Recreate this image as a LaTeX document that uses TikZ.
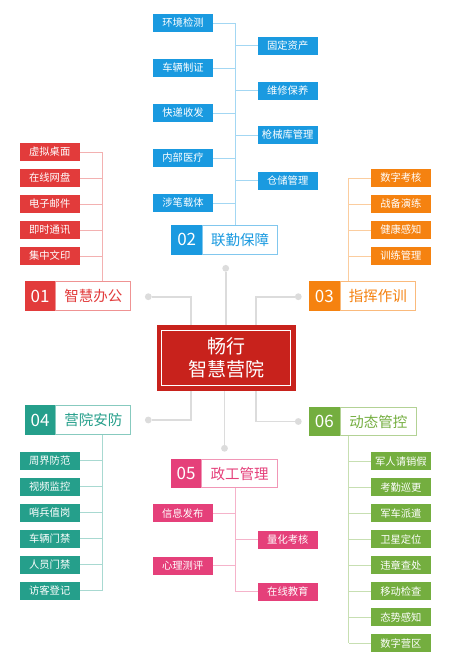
\documentclass[tikz,border=0pt]{standalone}
\usepackage{fontspec}
\newfontfamily\cjk{Noto Sans CJK SC}
\definecolor{blueC}{HTML}{1A9AE0}
\definecolor{redC}{HTML}{E23B3B}
\definecolor{orangeC}{HTML}{F58210}
\definecolor{tealC}{HTML}{259F8B}
\definecolor{pinkC}{HTML}{E5407A}
\definecolor{greenC}{HTML}{74AE3F}
\definecolor{centerC}{HTML}{C8221C}
\definecolor{grayL}{HTML}{DCDCDC}
\tikzset{
  item/.style={fill=#1, text=white, minimum width=60pt, minimum height=18pt, inner sep=0pt, font=\cjk\fontsize{10.3}{12}\selectfont},
  hnum/.style={fill=#1, draw=#1, line width=0.8pt, text=white, minimum width=30pt, minimum height=28.5pt, inner sep=0pt, font=\cjk\fontsize{17}{19}\selectfont},
  hlab/.style={fill=white, draw=#1!55, line width=0.8pt, text=#1, minimum height=28.5pt, inner sep=0pt, font=\cjk\fontsize{14.5}{16}\selectfont},
  gl/.style={draw=#1!40, line width=0.9pt},
  conn/.style={draw=grayL, line width=1.6pt},
  gdot/.style={circle, fill=grayL, minimum size=6.8pt, inner sep=0pt},
}
\begin{document}
\begin{tikzpicture}[x=1pt,y=-1pt]
\useasboundingbox (0,0) rectangle (450,664);
\fill[white] (0,0) rectangle (450,664);

% ===== center =====
\node[fill=centerC, minimum width=139pt, minimum height=65.4pt, inner sep=0pt, text=white,
      align=center, font=\cjk\fontsize{19}{23.5}\selectfont] (cb) at (226.2,358) {畅行\\智慧营院};
\draw[white, line width=1pt] ([shift={(5pt,-5pt)}]cb.north west) rectangle ([shift={(-5pt,5pt)}]cb.south east);

\node[gdot] (dL1) at (148.3,296.7) {};
\node[gdot] (dT)  at (225.7,268.3) {};
\node[gdot] (dR1) at (298.3,296.7) {};
\node[gdot] (dL2) at (148.3,420) {};
\node[gdot] (dB)  at (224.5,448.3) {};
\node[gdot] (dR2) at (298.3,421.5) {};
\draw[conn] (dL1) -| ([xshift=-35pt]cb.north);
\draw[conn] (dT) -- (cb.north -| dT);
\draw[conn] (dR1) -| ([xshift=29.5pt]cb.north);
\draw[conn] (dL2) -| ([xshift=-35pt]cb.south);
\draw[conn] (dB) -- (cb.south -| dB);
\draw[conn] (dR2) -| ([xshift=29.5pt]cb.south);

% ===== 02 =====
\node[hnum=blueC] (n2) at (186.7,239.7) {02};
\node[hlab=blueC, minimum width=75pt, anchor=west] (h2) at (n2.east) {联勤保障};
\node[item=blueC] (b1) at (183,23) {环境检测};
\node[item=blueC] (b2) at (183,68) {车辆制证};
\node[item=blueC] (b3) at (183,113) {快递收发};
\node[item=blueC] (b4) at (183,158) {内部医疗};
\node[item=blueC] (b5) at (183,203) {涉笔载体};
\node[item=blueC] (b6) at (287.7,45.5) {固定资产};
\node[item=blueC] (b7) at (287.7,90.5) {维修保养};
\node[item=blueC] (b8) at (287.7,135) {枪械库管理};
\node[item=blueC] (b9) at (287.7,180.5) {仓储管理};
\coordinate (v2) at (235.7,23);
\draw[gl=blueC] (v2) -- (h2.north -| v2);
\foreach \n in {b1,b2,b3,b4,b5} \draw[gl=blueC] (\n.east) -- (\n.east -| v2);
\foreach \n in {b6,b7,b8,b9} \draw[gl=blueC] (\n.west) -- (\n.west -| v2);

% ===== 01 =====
\node[hnum=redC] (n1) at (40,296) {01};
\node[hlab=redC, minimum width=75pt, anchor=west] (h1) at (n1.east) {智慧办公};
\node[item=redC] (r1) at (49.7,152) {虚拟桌面};
\node[item=redC] (r2) at (49.7,178) {在线网盘};
\node[item=redC] (r3) at (49.7,204) {电子邮件};
\node[item=redC] (r4) at (49.7,230) {即时通讯};
\node[item=redC] (r5) at (49.7,256) {集中文印};
\coordinate (v1) at (102.3,152);
\draw[gl=redC] (v1) -- (h1.north -| v1);
\foreach \n in {r1,r2,r3,r4,r5} \draw[gl=redC] (\n.east) -- (\n.east -| v1);

% ===== 03 =====
\node[hnum=orangeC] (n3) at (324.3,296) {03};
\node[hlab=orangeC, minimum width=75.7pt, anchor=west] (h3) at (n3.east) {指挥作训};
\node[item=orangeC] (o1) at (400.9,178) {数字考核};
\node[item=orangeC] (o2) at (400.9,204) {战备演练};
\node[item=orangeC] (o3) at (400.9,230) {健康感知};
\node[item=orangeC] (o4) at (400.9,256) {训练管理};
\coordinate (v3) at (348.7,178);
\draw[gl=orangeC] (v3) -- (h3.north -| v3);
\foreach \n in {o1,o2,o3,o4} \draw[gl=orangeC] (\n.west) -- (\n.west -| v3);

% ===== 04 =====
\node[hnum=tealC] (n4) at (40,420) {04};
\node[hlab=tealC, minimum width=75pt, anchor=west] (h4) at (n4.east) {营院安防};
\node[item=tealC] (t1) at (49.7,460.7) {周界防范};
\node[item=tealC] (t2) at (49.7,486.7) {视频监控};
\node[item=tealC] (t3) at (49.7,512.7) {哨兵值岗};
\node[item=tealC] (t4) at (49.7,538.7) {车辆门禁};
\node[item=tealC] (t5) at (49.7,564.7) {人员门禁};
\node[item=tealC] (t6) at (49.7,590.7) {访客登记};
\coordinate (v4) at (102.3,590.7);
\draw[gl=tealC] (h4.south -| v4) -- (v4);
\foreach \n in {t1,t2,t3,t4,t5,t6} \draw[gl=tealC] (\n.east) -- (\n.east -| v4);

% ===== 05 =====
\node[hnum=pinkC] (n5) at (186,473.5) {05};
\node[hlab=pinkC, minimum width=75.7pt, anchor=west] (h5) at (n5.east) {政工管理};
\node[item=pinkC] (p1) at (182.7,513.3) {信息发布};
\node[item=pinkC] (p2) at (182.7,565.7) {心理测评};
\node[item=pinkC] (p3) at (287.8,539.7) {量化考核};
\node[item=pinkC] (p4) at (287.8,591.7) {在线教育};
\coordinate (v5) at (235.7,591.7);
\draw[gl=pinkC] (h5.south -| v5) -- (v5);
\foreach \n in {p1,p2} \draw[gl=pinkC] (\n.east) -- (\n.east -| v5);
\foreach \n in {p3,p4} \draw[gl=pinkC] (\n.west) -- (\n.west -| v5);

% ===== 06 =====
\node[hnum=greenC] (n6) at (324.3,421.5) {06};
\node[hlab=greenC, minimum width=76.4pt, anchor=west] (h6) at (n6.east) {动态管控};
\node[item=greenC] (g1) at (400.9,461.3) {军人请销假};
\node[item=greenC] (g2) at (400.9,487.3) {考勤巡更};
\node[item=greenC] (g3) at (400.9,513.3) {军车派遣};
\node[item=greenC] (g4) at (400.9,539.3) {卫星定位};
\node[item=greenC] (g5) at (400.9,565.3) {违章查处};
\node[item=greenC] (g6) at (400.9,591.3) {移动检查};
\node[item=greenC] (g7) at (400.9,617.3) {态势感知};
\node[item=greenC] (g8) at (400.9,643.3) {数字营区};
\coordinate (v6) at (348.7,643.3);
\draw[gl=greenC] (h6.south -| v6) -- (v6);
\foreach \n in {g1,g2,g3,g4,g5,g6,g7,g8} \draw[gl=greenC] (\n.west) -- (\n.west -| v6);
\end{tikzpicture}
\end{document}
